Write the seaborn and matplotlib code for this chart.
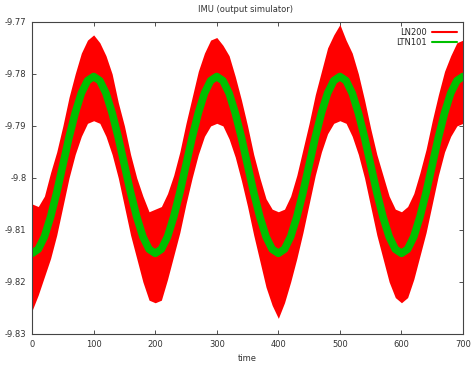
import numpy as np
import pandas as pd
import matplotlib
matplotlib.use("Agg")
import matplotlib.pyplot as plt
from matplotlib.lines import Line2D
from matplotlib.ticker import FuncFormatter
import seaborn as sns

time = list(range(0, 701, 10))

ltn101 = [
    -9.8145, -9.8137, -9.8113, -9.8075, -9.8028, -9.7975, -9.7922, -9.7875, -9.7837, -9.7813,
    -9.7805, -9.7813, -9.7837, -9.7875, -9.7922, -9.7975, -9.8028, -9.8075, -9.8113, -9.8137,
    -9.8145, -9.8137, -9.8113, -9.8075, -9.8028, -9.7975, -9.7922, -9.7875, -9.7837, -9.7813,
    -9.7805, -9.7813, -9.7837, -9.7875, -9.7922, -9.7975, -9.8028, -9.8075, -9.8113, -9.8137,
    -9.8145, -9.8137, -9.8113, -9.8075, -9.8028, -9.7975, -9.7922, -9.7875, -9.7837, -9.7813,
    -9.7805, -9.7813, -9.7837, -9.7875, -9.7922, -9.7975, -9.8028, -9.8075, -9.8113, -9.8137,
    -9.8145, -9.8137, -9.8113, -9.8075, -9.8028, -9.7975, -9.7922, -9.7875, -9.7837, -9.7813,
    -9.7805,
]

ln200_upper = [
    -9.8050, -9.8055, -9.8035, -9.7990, -9.7950, -9.7900, -9.7845, -9.7800, -9.7760, -9.7735,
    -9.7725, -9.7740, -9.7765, -9.7800, -9.7855, -9.7900, -9.7955, -9.8000, -9.8035, -9.8065,
    -9.8060, -9.8055, -9.8030, -9.7995, -9.7950, -9.7895, -9.7845, -9.7795, -9.7760, -9.7735,
    -9.7730, -9.7745, -9.7765, -9.7805, -9.7850, -9.7900, -9.7955, -9.8000, -9.8040, -9.8060,
    -9.8065, -9.8060, -9.8035, -9.7995, -9.7945, -9.7895, -9.7840, -9.7795, -9.7750, -9.7725,
    -9.7705, -9.7735, -9.7760, -9.7800, -9.7850, -9.7905, -9.7955, -9.7995, -9.8035, -9.8060,
    -9.8065, -9.8055, -9.8030, -9.7990, -9.7945, -9.7890, -9.7840, -9.7795, -9.7765, -9.7740,
    -9.7735,
]

ln200_lower = [
    -9.8255, -9.8225, -9.8190, -9.8155, -9.8110, -9.8055, -9.8000, -9.7955, -9.7920, -9.7895,
    -9.7890, -9.7895, -9.7920, -9.7955, -9.8000, -9.8055, -9.8110, -9.8155, -9.8200, -9.8235,
    -9.8240, -9.8235, -9.8195, -9.8150, -9.8105, -9.8050, -9.8000, -9.7955, -9.7920, -9.7900,
    -9.7895, -9.7900, -9.7925, -9.7960, -9.8005, -9.8055, -9.8110, -9.8160, -9.8210, -9.8245,
    -9.8270, -9.8240, -9.8200, -9.8155, -9.8105, -9.8050, -9.7995, -9.7950, -9.7915, -9.7895,
    -9.7890, -9.7895, -9.7920, -9.7955, -9.8000, -9.8055, -9.8110, -9.8155, -9.8200, -9.8230,
    -9.8240, -9.8230, -9.8195, -9.8150, -9.8105, -9.8050, -9.7995, -9.7950, -9.7920, -9.7900,
    -9.7895,
]

series_names = ["LN200", "LTN101"]
x_ticks = [0, 100, 200, 300, 400, 500, 600, 700]
y_ticks = [-9.83, -9.82, -9.81, -9.80, -9.79, -9.78, -9.77]

red = "#ff0000"
green = "#00c000"

sns.set_theme(style="white")
plt.rcParams["font.family"] = ["DejaVu Sans"]

df_red = pd.DataFrame({
    "time": time + time,
    "value": ln200_upper + ln200_lower,
})
df_green = pd.DataFrame({"time": time, "value": ltn101})

fig = plt.figure(figsize=(4.72, 3.65), dpi=100)
ax = fig.add_axes([0.068, 0.085, 0.913, 0.855])

sns.lineplot(data=df_red, x="time", y="value", estimator="mean",
             errorbar=("pi", 100), color=red, linewidth=0.5,
             err_kws={"alpha": 1.0, "linewidth": 0}, ax=ax)
sns.lineplot(data=df_green, x="time", y="value", color=green,
             linewidth=5.5, ax=ax)

ax.set_xlim(0, 700)
ax.set_ylim(-9.83, -9.77)
ax.set_xticks(x_ticks)
ax.set_yticks(y_ticks)
ax.yaxis.set_major_formatter(FuncFormatter(lambda v, p: f"{v:g}"))
ax.tick_params(direction="in", length=3, width=0.6, labelsize=6,
               top=True, right=True, bottom=True, left=True, pad=4,
               colors="#333333", labelcolor="#333333")
for s in ax.spines.values():
    s.set_color("#444444")
    s.set_linewidth(0.8)

ax.set_xlabel("time", fontsize=6, color="#333333", labelpad=4)
ax.set_ylabel("")
fig.text(0.52, 0.975, "IMU (output simulator)", ha="center", va="center",
         fontsize=6, color="#333333")

handles = [Line2D([0], [0], color=red, lw=1.5),
           Line2D([0], [0], color=green, lw=1.5)]
ax.legend(handles, series_names, loc="upper right", markerfirst=False,
          frameon=False, fontsize=6, handlelength=3.0, handletextpad=0.6,
          labelspacing=0.1, borderaxespad=0.3)

fig.savefig("out.png", dpi=100)
